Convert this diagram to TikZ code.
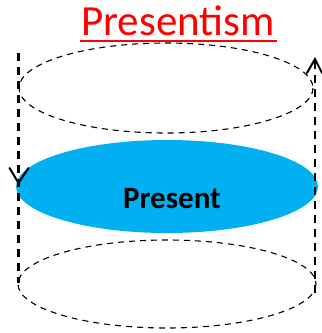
\documentclass[tikz,border=0pt]{standalone}
\usepackage{fontspec}
\setmainfont{Carlito}
\usetikzlibrary{calc}
\definecolor{presblue}{HTML}{00B0F0}
\definecolor{titlered}{HTML}{FF0000}
\tikzset{
  ring/.style={draw=black, line width=1.1pt, dash pattern=on 6pt off 5pt},
  timeline/.style={draw=black, line width=2.4pt, dash pattern=on 8pt off 6pt},
  openv/.style={draw=black, line width=2pt, line cap=round, line join=miter},
}
\begin{document}
\begin{tikzpicture}[x=1pt,y=-1pt]
\useasboundingbox (0,0) rectangle (322,333);
% title
\node[anchor=base, text=titlered, font=\fontsize{43}{43}\selectfont, inner sep=0pt] (title) at (178,35) {Presentism};
\draw[titlered, line width=2.8pt] ([xshift=-1pt]title.base west |- 0,41) -- ([xshift=2pt]title.base east |- 0,41);
% ellipses
\path[ring] (166,88) ellipse [x radius=147, y radius=45];
\path[ring] (167,284) ellipse [x radius=149, y radius=44];
\fill[presblue] (167,186.5) ellipse [x radius=151, y radius=46.5];
\node[anchor=base, font=\bfseries\fontsize{31}{31}\selectfont, inner sep=0pt] (present) at (172,208) {Present};
% time lines
\coordinate (ltop) at (18.5,53);
\coordinate (lbot) at (18.5,283);
\coordinate (rbot) at (315,293);
\coordinate (rtop) at (315,59);
\path[timeline] (ltop) -- (lbot);
\path[timeline] (rbot) -- (rtop);
% arrow heads
\coordinate (larrow) at (18.5,183);
\draw[openv] ($(larrow)+(-9,-15)$) -- (larrow) -- ($(larrow)+(10,-15)$);
\draw[openv] ($(rtop)+(-8,14)$) -- (rtop) -- ($(rtop)+(7,14)$);
\end{tikzpicture}
\end{document}
